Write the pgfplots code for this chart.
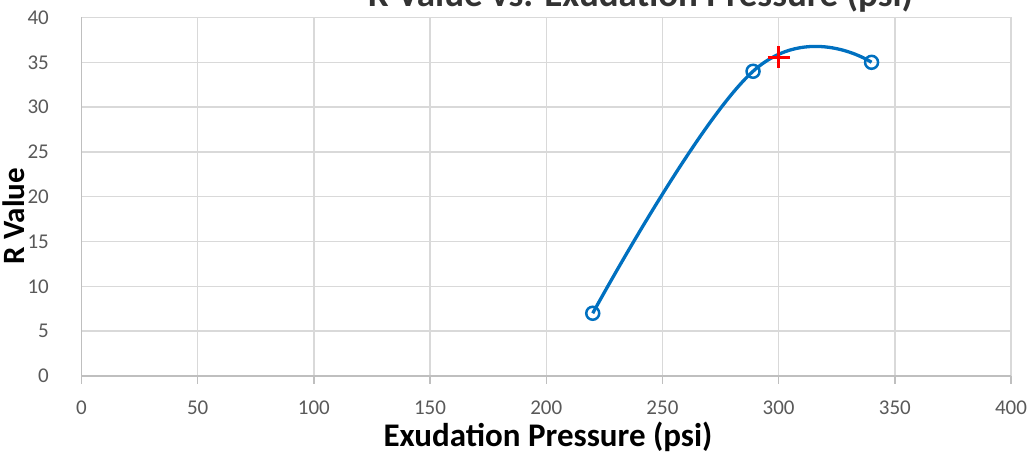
\documentclass[border=0pt]{standalone}
\usepackage{pgfplots}
\pgfplotsset{compat=1.18}
\usepackage{fontspec}
\setmainfont{Carlito}
\definecolor{xlblue}{HTML}{0070C0}
\definecolor{gridc}{HTML}{D9D9D9}
\definecolor{axc}{HTML}{BFBFBF}
\definecolor{tickc}{HTML}{595959}
\begin{document}
\begin{tikzpicture}[x=1pt,y=1pt]
\begin{axis}[
  at={(0,0)}, anchor=south west,
  scale only axis, width=929.5pt, height=358.5pt,
  xmin=0, xmax=400, ymin=0, ymax=40,
  xtick distance=50, ytick distance=5,
  grid=major, major grid style={gridc, line width=1.5pt},
  axis x line*=bottom, axis y line*=left,
  axis line style={-, axc, line width=1.8pt},
  tick align=outside, major tick length=8pt,
  xtick style={axc, line width=1.5pt},
  ytick style={draw=none},
  /pgf/number format/assume math mode=true,
  tick label style={font=\fontsize{21}{25}\selectfont, text=tickc, inner sep=0pt},
  xticklabel style={anchor=north},
  yticklabel style={anchor=east},
  xticklabel shift=17pt,
  yticklabel shift=24.5pt,
  clip=false,
]
\addplot[xlblue, line width=3.3pt, smooth, tension=0.72, mark=o, mark size=6.5pt, mark options={line width=2.5pt}] coordinates {(220,7) (289,34) (340,35)};
\addplot[red, only marks, mark=+, mark size=11pt, mark options={line width=3.5pt}] coordinates {(300,35.56)};
\end{axis}
\node[anchor=base, font=\fontsize{37}{44}\selectfont\bfseries, text={rgb,255:red,51;green,51;blue,51}] at (559,369) {R Value vs. Exudation Pressure (psi)};
\node[anchor=base, font=\fontsize{33}{40}\selectfont\bfseries, inner sep=0pt] at (466.5,-70.5) {Exudation Pressure (psi)};
\node[anchor=base, rotate=90, font=\fontsize{31}{37}\selectfont\bfseries, inner sep=0pt] at (-56.5,160) {R Value};
\pgfresetboundingbox
\useasboundingbox (-81.5,-78) rectangle (949.5,376);
\end{tikzpicture}
\end{document}
